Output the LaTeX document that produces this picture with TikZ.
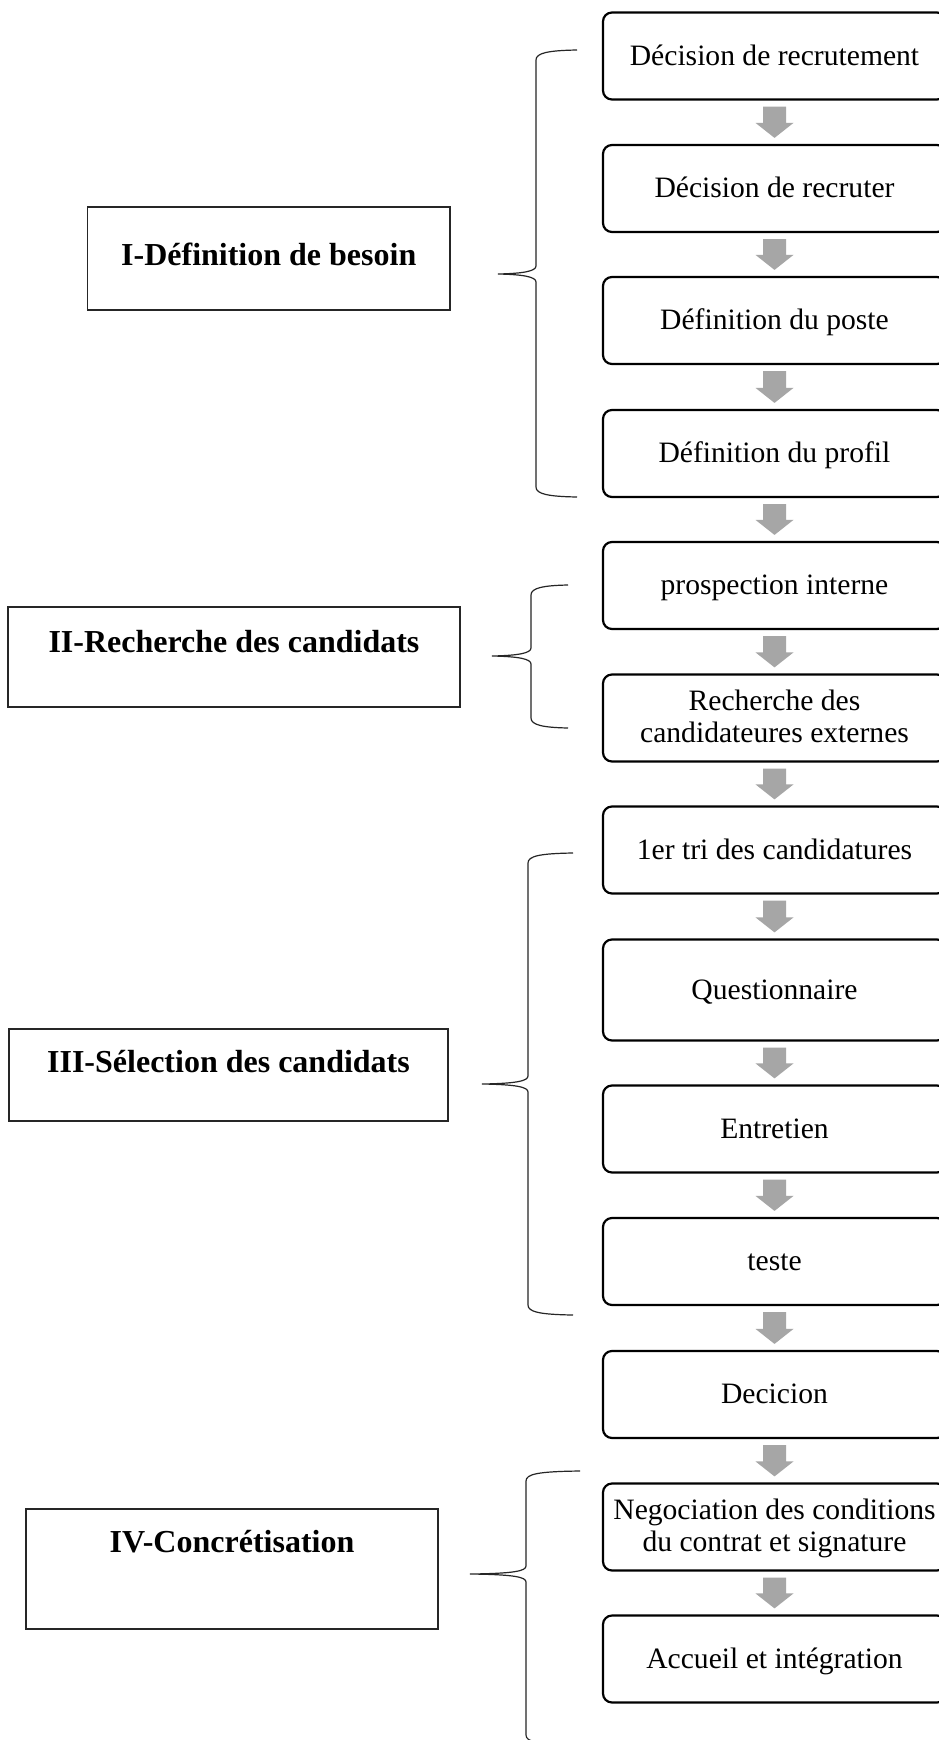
\documentclass[tikz,border=0pt]{standalone}
\usepackage{fontspec}
\setmainfont{Liberation Serif}
\usetikzlibrary{calc}

\tikzset{
  x=0.5pt, y=-0.5pt,
  stepbox/.style={draw=black, line width=1.1pt, rounded corners=4.5pt,
    minimum width=171.5pt, minimum height=43.5pt, inner sep=0pt,
    align=center, font=\fontsize{14.8}{16}\selectfont,
    text height=11pt, text depth=2pt},
  twolines/.style={text height=26pt, text depth=2pt},
  phasebox/.style={draw=black!85, line width=0.6pt, inner sep=0pt,
    font=\bfseries\fontsize{16}{19}\selectfont},
  bracepen/.style={draw=black!85, line width=0.6pt},
  flowgray/.style={fill=black!35},
}

% block arrow between two stacked step boxes
\newcommand\flowarrow[2]{%
  \fill[flowgray] let \p1=(#1.south), \p2=(#2.north) in
    (\x1-5.75pt,\y1-3pt) -- (\x1+5.75pt,\y1-3pt) -- (\x1+5.75pt,\y2+10.5pt)
    -- (\x1+9.5pt,\y2+10.5pt) -- (\x1,\y2+3pt) -- (\x1-9.5pt,\y2+10.5pt)
    -- (\x1-5.75pt,\y2+10.5pt) -- cycle;}

% curly brace: #1 end x, #2 top y, #3 stem x, #4 tip x, #5 tip y, #6 bottom y
\newcommand\phasebrace[6]{%
  \draw[bracepen] (#1,#2) .. controls ({#3+12},{#2+0.5}) and (#3,{#2+3}) .. (#3,{#2+10})
    -- (#3,{#5-8}) .. controls (#3,{#5-3}) and ({#3-12},{#5-0.5}) .. (#4,#5)
    .. controls ({#3-12},{#5+0.5}) and (#3,{#5+3}) .. (#3,{#5+8})
    -- (#3,{#6-10}) .. controls (#3,{#6-3}) and ({#3+12},{#6-0.5}) .. (#1,#6);}

\begin{document}
\begin{tikzpicture}
\fill[white] (0,0) rectangle (938,1740);
\useasboundingbox (0,0) rectangle (938,1740);

% steps of the process
\node[stepbox] (b1)  at (774.5,56)    {Décision de recrutement};
\node[stepbox] (b2)  at (774.5,188.5) {Décision de recruter};
\node[stepbox] (b3)  at (774.5,320.5) {Définition du poste};
\node[stepbox] (b4)  at (774.5,453.5) {Définition du profil};
\node[stepbox] (b5)  at (774.5,585.5) {prospection interne};
\node[stepbox, twolines] (b6) at (774.5,718) {Recherche des\\candidateures externes};
\node[stepbox] (b7)  at (774.5,850)   {1er tri des candidatures};
\node[stepbox, minimum height=50.5pt] (b8) at (774.5,990) {Questionnaire};
\node[stepbox] (b9)  at (774.5,1129)  {Entretien};
\node[stepbox] (b10) at (774.5,1261.5) {teste};
\node[stepbox] (b11) at (774.5,1394.5) {Decicion};
\node[stepbox, twolines] (b12) at (774.5,1527) {Negociation des conditions\\du contrat et signature};
\node[stepbox] (b13) at (774.5,1659)  {Accueil et intégration};

\foreach \a/\b in {b1/b2,b2/b3,b3/b4,b4/b5,b5/b6,b6/b7,b7/b8,b8/b9,b9/b10,b10/b11,b11/b12,b12/b13}
  {\flowarrow{\a}{\b}}

% phases
\node[phasebox, minimum width=181.25pt, minimum height=51.5pt, text height=29pt,   text depth=22.5pt] (p1) at (268.75,258.5) {I-Définition de besoin};
\node[phasebox, minimum width=226pt,    minimum height=50pt,   text height=22.5pt, text depth=27.5pt] (p2) at (234,657)      {II-Recherche des candidats};
\node[phasebox, minimum width=219.5pt,  minimum height=46pt,   text height=21.5pt, text depth=24.5pt] (p3) at (228.5,1075)   {III-Sélection des candidats};
\node[phasebox, minimum width=206pt,    minimum height=60pt,   text height=21.5pt, text depth=38.5pt] (p4) at (232,1569)     {IV-Concrétisation};

% braces grouping the steps
\phasebrace{577}{50}{536}{498}{274}{497}
\phasebrace{568}{585}{531}{492}{656}{728}
\phasebrace{573}{853}{528}{482}{1084}{1315}
\phasebrace{580}{1471}{526}{470}{1574}{1745}
\end{tikzpicture}
\end{document}
